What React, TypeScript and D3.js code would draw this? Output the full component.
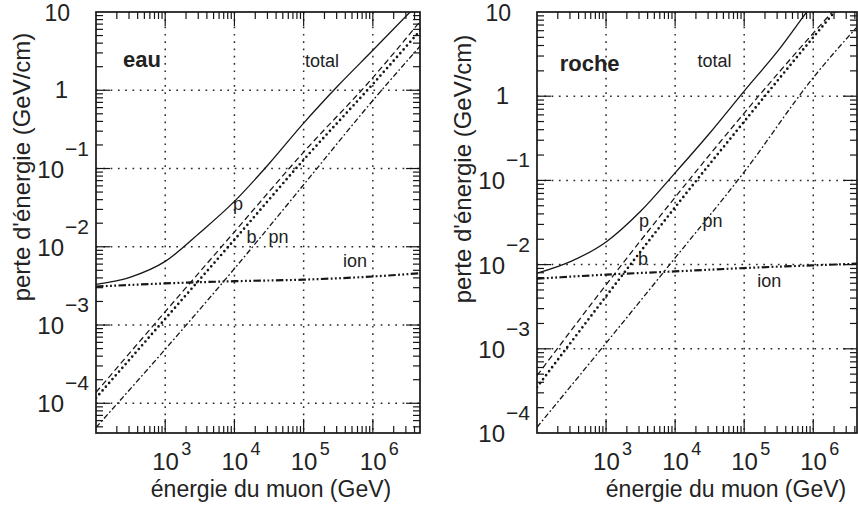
import React from "react";
import * as d3 from "d3";

// Muon energy (GeV) at which the loss curves are sampled
const energyDecades = [1e2, 1e3, 1e4, 1e5, 1e6, 5e6];
const energyTotal = [1e2, 3.16e2, 1e3, 3.16e3, 1e4, 3.16e4, 1e5, 3.16e5, 1e6, 5e6];

// Water (eau): energy loss in GeV/cm
const eauIon = [3.1e-3, 3.4e-3, 3.63e-3, 3.8e-3, 4.17e-3, 4.6e-3];
const eauPair = [1.38e-4, 1.48e-3, 1.55e-2, 0.162, 1.45, 7.9];
const eauBrems = [1.17e-4, 1.2e-3, 1.23e-2, 0.129, 1.2, 6.0];
const eauPhotonuc = [4.9e-5, 4.9e-4, 5.25e-3, 6.2e-2, 0.74, 3.8];
const eauTotal = [3.3e-3, 4.1e-3, 6.5e-3, 1.51e-2, 3.8e-2, 0.115, 0.38, 1.15, 3.24, 14];

// Standard rock (roche): energy loss in GeV/cm
const rocheIon = [6.8e-3, 7.6e-3, 8.3e-3, 9.1e-3, 9.8e-3, 1.03e-2];
const rochePair = [4.8e-4, 5.75e-3, 6.3e-2, 0.63, 5.6, 24];
const rocheBrems = [3.5e-4, 4.2e-3, 4.8e-2, 0.5, 5.0, 24];
const rochePhotonuc = [1.17e-4, 1.17e-3, 1.2e-2, 0.126, 1.66, 7.6];
const rocheTotal = [7.9e-3, 1.1e-2, 1.86e-2, 4.3e-2, 0.123, 0.363, 1.15, 3.55, 12.6, 55];

// Axis tick labels (powers of ten)
const xTickExponents = [3, 4, 5, 6];
const yTickExponents = [1, 0, -1, -2, -3, -4];

const FONT = "'Liberation Sans', Arial, Helvetica, sans-serif";
const INK = "#161616";

type Series = { energies: number[]; values: number[]; style: "total" | "p" | "b" | "pn" | "ion" };
type Label = { text: string; e: number; v: number; bold?: boolean; size?: number };

const styles: Record<string, { w: number; dash?: string; cap?: string }> = {
  total: { w: 1.3 },
  p: { w: 1.25, dash: "6 3.5" },
  b: { w: 2.7, dash: "0 5", cap: "round" },
  pn: { w: 1.3, dash: "5.5 2.4 1.8 2.4" },
  ion: { w: 2.2, dash: "7.5 2.4 1.8 2.4 1.8 2.4 1.8 2.4" },
};

function Panel(props: {
  id: string;
  left: number;
  right: number;
  top: number;
  bottom: number;
  xMax: number;
  yMin: number;
  series: Series[];
  labels: Label[];
  titleX: number;
  titleY: number;
}) {
  const { id, left, right, top, bottom, xMax, yMin, series, labels, titleX, titleY } = props;
  const x = d3.scaleLog().domain([100, xMax]).range([left, right]);
  const y = d3.scaleLog().domain([yMin, 10]).range([bottom, top]);

  const line = d3
    .line<[number, number]>()
    .x((d) => x(d[0]))
    .y((d) => y(d[1]))
    .curve(d3.curveMonotoneX);

  // minor / major ticks for a log axis
  const ticksFor = (lo: number, hi: number) => {
    const out: { v: number; major: boolean }[] = [];
    for (let d = Math.floor(Math.log10(lo)); d <= Math.ceil(Math.log10(hi)); d++) {
      for (let m = 1; m <= 9; m++) {
        const v = m * Math.pow(10, d);
        if (v > lo * 1.0001 && v < hi * 0.9999) out.push({ v, major: m === 1 });
      }
    }
    return out;
  };
  const xt = ticksFor(100, xMax);
  const yt = ticksFor(yMin, 10);
  const MAJ = 14;
  const MIN = 7;

  return (
    <g>
      <defs>
        <clipPath id={id}>
          <rect x={left} y={top} width={right - left} height={bottom - top} />
        </clipPath>
      </defs>

      {/* dotted decade grid */}
      <g stroke="#2a2a2a" strokeWidth={1.5} strokeDasharray="1.7 5.6">
        {xt.filter((t) => t.major).map((t) => (
          <line key={"gx" + t.v} x1={x(t.v)} x2={x(t.v)} y1={top} y2={bottom} />
        ))}
        {yt.filter((t) => t.major).map((t) => (
          <line key={"gy" + t.v} x1={left} x2={right} y1={y(t.v)} y2={y(t.v)} />
        ))}
      </g>

      {/* loss curves */}
      <g clipPath={`url(#${id})`} fill="none" stroke={INK}>
        {series.map((s, i) => {
          const st = styles[s.style];
          const pts = s.energies.map((e, k) => [e, s.values[k]] as [number, number]);
          return (
            <path
              key={i}
              d={line(pts) || ""}
              strokeWidth={st.w}
              strokeDasharray={st.dash}
              strokeLinecap={(st.cap as any) || "butt"}
            />
          );
        })}
      </g>

      {/* ticks on all four sides */}
      <g stroke={INK} strokeWidth={1.2}>
        {xt.map((t) => {
          const px = x(t.v);
          const L = t.major ? MAJ : MIN;
          return (
            <g key={"tx" + t.v}>
              <line x1={px} x2={px} y1={bottom} y2={bottom - L} />
              <line x1={px} x2={px} y1={top} y2={top + L} />
            </g>
          );
        })}
        {yt.map((t) => {
          const py = y(t.v);
          const L = t.major ? MAJ : MIN;
          return (
            <g key={"ty" + t.v}>
              <line x1={left} x2={left + L} y1={py} y2={py} />
              <line x1={right} x2={right - L} y1={py} y2={py} />
            </g>
          );
        })}
      </g>

      {/* frame */}
      <rect x={left} y={top} width={right - left} height={bottom - top} fill="none" stroke={INK} strokeWidth={1.7} />

      {/* y tick labels */}
      <g fill="#222" fontFamily={FONT}>
        {yTickExponents
          .filter((e) => Math.pow(10, e) >= yMin)
          .map((e) => {
            const py = y(Math.pow(10, e));
            if (e === 1)
              return (
                <text key={"yl" + e} x={left - 26} y={py + 9} fontSize={23} textAnchor="end">
                  10
                </text>
              );
            if (e === 0)
              return (
                <text key={"yl" + e} x={left - 28} y={py + 8} fontSize={24} textAnchor="end">
                  1
                </text>
              );
            return (
              <g key={"yl" + e}>
                <text x={left - 32} y={py + 9} fontSize={24} textAnchor="end">
                  10
                </text>
                <text x={left - 31} y={py - 13} fontSize={21}>
                  {"\u2212" + -e}
                </text>
              </g>
            );
          })}

        {/* x tick labels */}
        {xTickExponents.map((e) => {
          const px = x(Math.pow(10, e));
          return (
            <g key={"xl" + e}>
              <text x={px - 13} y={bottom + 37} fontSize={24}>
                10
              </text>
              <text x={px + 16} y={bottom + 22} fontSize={18}>
                {String(e)}
              </text>
            </g>
          );
        })}

        {/* axis titles */}
        <text x={titleX} y={497} fontSize={23} textAnchor="middle">
          énergie du muon (GeV)
        </text>
        <text
          transform={`translate(${left - 66},${titleY}) rotate(-90)`}
          fontSize={24}
          textAnchor="middle"
        >
          perte d'énergie (GeV/cm)
        </text>

        {/* curve and medium labels */}
        {labels.map((l, i) => (
          <text
            key={"lb" + i}
            x={x(l.e)}
            y={y(l.v)}
            fontSize={l.size || 18}
            fontWeight={l.bold ? "bold" : "normal"}
          >
            {l.text}
          </text>
        ))}
      </g>
    </g>
  );
}

export default function App() {
  const eauSeries: Series[] = [
    { energies: energyTotal, values: eauTotal, style: "total" },
    { energies: energyDecades, values: eauPair, style: "p" },
    { energies: energyDecades, values: eauBrems, style: "b" },
    { energies: energyDecades, values: eauPhotonuc, style: "pn" },
    { energies: energyDecades, values: eauIon, style: "ion" },
  ];
  const rocheSeries: Series[] = [
    { energies: energyTotal, values: rocheTotal, style: "total" },
    { energies: energyDecades, values: rochePair, style: "p" },
    { energies: energyDecades, values: rocheBrems, style: "b" },
    { energies: energyDecades, values: rochePhotonuc, style: "pn" },
    { energies: energyDecades, values: rocheIon, style: "ion" },
  ];
  const eauLabels: Label[] = [
    { text: "eau", e: 245, v: 1.98, bold: true, size: 22 },
    { text: "total", e: 1.05e5, v: 2.0 },
    { text: "p", e: 9.5e3, v: 0.0295 },
    { text: "b", e: 1.5e4, v: 0.0112 },
    { text: "pn", e: 3.1e4, v: 0.0112 },
    { text: "ion", e: 3.7e5, v: 5.5e-3 },
  ];
  const rocheLabels: Label[] = [
    { text: "roche", e: 213, v: 2.0, bold: true, size: 22 },
    { text: "total", e: 2.1e4, v: 2.2 },
    { text: "p", e: 3.0e3, v: 0.028 },
    { text: "pn", e: 2.5e4, v: 0.028 },
    { text: "b", e: 2.9e3, v: 0.01 },
    { text: "ion", e: 1.55e5, v: 5.4e-3 },
  ];

  return (
    <svg
      width={858}
      height={509}
      viewBox="0 0 858 509"
      style={{ position: "absolute", left: 0, top: 0, background: "#fff" }}
    >
      <rect x={0} y={0} width={858} height={509} fill="#fff" />
      <Panel
        id="clip-eau"
        left={96}
        right={420}
        top={12}
        bottom={433}
        xMax={4.8e6}
        yMin={4.17e-5}
        series={eauSeries}
        labels={eauLabels}
        titleX={271}
        titleY={167}
      />
      <Panel
        id="clip-roche"
        left={537}
        right={857}
        top={12}
        bottom={433}
        xMax={4.3e6}
        yMin={1e-4}
        series={rocheSeries}
        labels={rocheLabels}
        titleX={726}
        titleY={169}
      />
    </svg>
  );
}
